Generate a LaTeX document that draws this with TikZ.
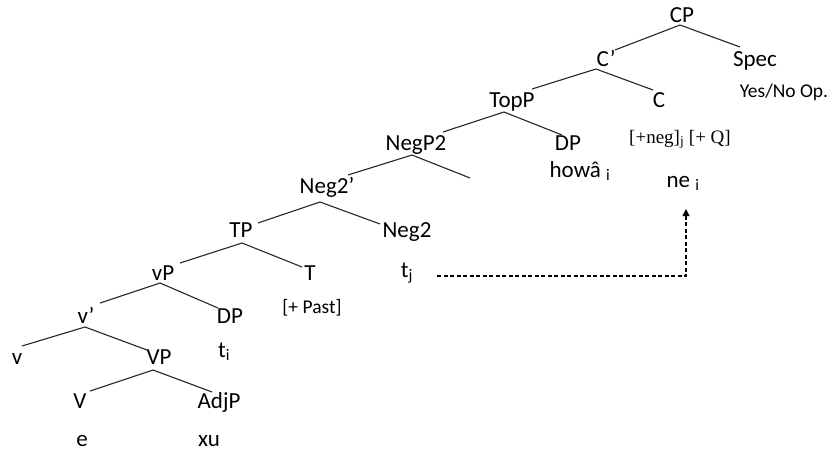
\documentclass[tikz,border=0pt]{standalone}
\usepackage{fontspec}
\setmainfont{Carlito}
\newfontfamily\serifb{Liberation Serif}
\usetikzlibrary{arrows.meta}
\begin{document}
\begin{tikzpicture}[x=1pt,y=-1pt,
  lab/.style={anchor=base,inner sep=0pt,font=\fontsize{23}{23}\selectfont},
  small/.style={anchor=base,inner sep=0pt,font=\fontsize{19.5}{19.5}\selectfont},
  feat/.style={anchor=base,inner sep=0pt,font=\serifb\fontsize{19}{19}\selectfont},
  br/.style={draw=black!85,line width=1.1pt},
  mv/.style={draw=black,line width=1.1pt,dash pattern=on 4pt off 2.5pt,-{Triangle[width=7pt,length=7pt]}}]
\useasboundingbox (0,0) rectangle (833,453);
% nodes
\node[lab] (CP) at (682,22) {CP};
\node[lab] (Cb) at (606,66) {C’};
\node[lab] (Spec) at (755,66) {Spec};
\node[small] (YN) at (784,97) {Yes/No Op.};
\node[lab] (TopP) at (512,107) {TopP};
\node[lab] (C) at (659,107) {C};
\node[feat] (neg) at (680,143) {[+neg]\textsubscript{j} [+ Q]};
\node[lab] (DPa) at (568,150) {DP};
\node[lab] (howa) at (580,177) {howâ \textsubscript{i}};
\node[lab] (ne) at (683,187) {ne \textsubscript{i}};
\node[lab] (NegP2) at (416,150) {NegP2};
\coordinate (empty) at (470,178);
\node[lab] (Negb) at (327,193) {Neg2’};
\node[lab] (Neg2) at (407,237) {Neg2};
\node[lab] (TP) at (241,237) {TP};
\node[lab] (T) at (310,280) {T};
\node[lab] (tj) at (407,277) {t\textsubscript{j}};
\node[small] (Past) at (312,313) {[+ Past]};
\node[lab] (vP) at (163,280) {vP};
\node[lab] (DPb) at (230,323) {DP};
\node[lab] (ti) at (224,357) {t\textsubscript{i}};
\node[lab] (vb) at (86,323) {v’};
\node[lab] (v) at (17,364) {v};
\node[lab] (VP) at (159,364) {VP};
\node[lab] (V) at (80,408) {V};
\node[lab] (AdjP) at (219,408) {AdjP};
\node[lab] (e) at (82,446) {e};
\node[lab] (xu) at (209,446) {xu};
% branches
\draw[br] ([shift={(-2,3)}]CP.base) -- ([shift={(9,-16)}]Cb.base);
\draw[br] ([shift={(-2,3)}]CP.base) -- ([shift={(-15,-19)}]Spec.base);
\draw[br] ([shift={(-10,3)}]Cb.base) -- ([shift={(20,-18)}]TopP.base);
\draw[br] ([shift={(-10,3)}]Cb.base) -- ([shift={(-6,-17)}]C.base);
\draw[br] ([shift={(-8,5)}]TopP.base) -- ([shift={(27,-18)}]NegP2.base);
\draw[br] ([shift={(-8,5)}]TopP.base) -- ([shift={(-6,-15)}]DPa.base);
\draw[br] ([shift={(-4,5)}]NegP2.base) -- ([shift={(21,-18)}]Negb.base);
\draw[br] ([shift={(-4,5)}]NegP2.base) -- (empty);
\draw[br] ([shift={(-7,9)}]Negb.base) -- ([shift={(17,-14)}]TP.base);
\draw[br] ([shift={(-7,9)}]Negb.base) -- ([shift={(-27,-13)}]Neg2.base);
\draw[br] ([shift={(1,6)}]TP.base) -- ([shift={(17,-17)}]vP.base);
\draw[br] ([shift={(1,6)}]TP.base) -- ([shift={(-8,-13)}]T.base);
\draw[br] ([shift={(-3,3)}]vP.base) -- ([shift={(14,-20)}]vb.base);
\draw[br] ([shift={(-3,3)}]vP.base) -- ([shift={(-12,-15)}]DPb.base);
\draw[br] ([shift={(-1,4)}]vb.base) -- ([shift={(5,-18)}]v.base);
\draw[br] ([shift={(-1,4)}]vb.base) -- ([shift={(-12,-14)}]VP.base);
\draw[br] ([shift={(-6,6)}]VP.base) -- ([shift={(10,-17)}]V.base);
\draw[br] ([shift={(-6,6)}]VP.base) -- ([shift={(-7,-16)}]AdjP.base);
% movement
\draw[mv] ([shift={(30,-1)}]tj.base) -| ([shift={(3,22)}]ne.base);
\end{tikzpicture}
\end{document}
